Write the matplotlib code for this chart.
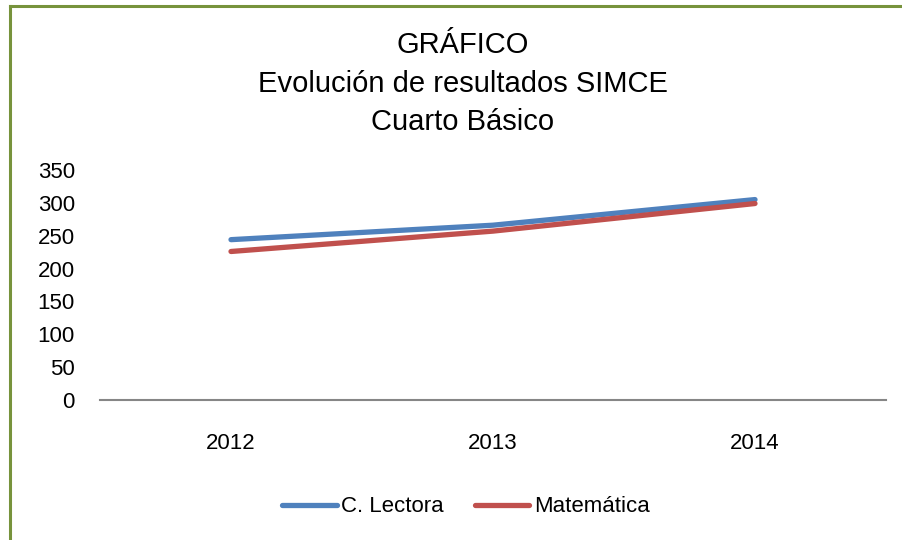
import matplotlib.pyplot as plt
from matplotlib.lines import Line2D

plt.rcParams['font.family'] = ['Liberation Sans Narrow', 'Liberation Sans', 'DejaVu Sans']

years = ['2012', '2013', '2014']
lectora = [244, 266, 305]
matematica = [226, 257, 299]
y_ticks = [0, 50, 100, 150, 200, 250, 300, 350]

fig = plt.figure(figsize=(9.03, 5.40), dpi=100)
ax = fig.add_axes([100/903, 1 - 400/540, 786/903, 230/540])

x = range(len(years))
ax.plot(x, lectora, color='#4F81BD', lw=3.8, solid_capstyle='round', label='C. Lectora')
ax.plot(x, matematica, color='#C0504D', lw=3.8, solid_capstyle='round', label='Matemática')

ax.set_xlim(-0.5, 2.5)
ax.set_ylim(0, 350)
ax.set_yticks(y_ticks)
ax.set_xticks(list(x))
ax.set_xticklabels(years)
for s in ['top', 'right', 'left']:
    ax.spines[s].set_visible(False)
ax.spines['bottom'].set_color('#868686')
ax.spines['bottom'].set_linewidth(1.5)
ax.tick_params(axis='both', length=0, labelsize=16)
ax.tick_params(axis='y', pad=18)
ax.tick_params(axis='x', pad=24)

fig.text(463/903, 1 - 45/540, 'GRÁFICO', ha='center', va='center', fontsize=21)
fig.text(463/903, 1 - 84/540, 'Evolución de resultados SIMCE', ha='center', va='center', fontsize=21)
fig.text(463/903, 1 - 122/540, 'Cuarto Básico', ha='center', va='center', fontsize=21)

ax.legend(loc='center', bbox_to_anchor=(466/903, 1 - 507/540), bbox_transform=fig.transFigure,
          ncol=2, frameon=False, fontsize=16, handlelength=2.45, handletextpad=0.2,
          columnspacing=1.4)

# green frame on left and top
fig.add_artist(Line2D([10/903, 10/903], [0, 1 - 6/540], color='#77933C', lw=2.2))
fig.add_artist(Line2D([10/903, 1], [1 - 6/540, 1 - 6/540], color='#77933C', lw=2.2))

fig.savefig('out.png', dpi=100)
